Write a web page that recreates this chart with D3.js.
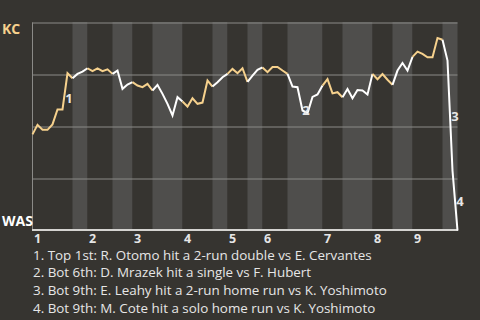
<!DOCTYPE html>
<html>
<head>
<meta charset="utf-8">
<script src="https://cdn.jsdelivr.net/npm/d3@7"></script>
<style>
  html, body { margin: 0; padding: 0; background: #363430; }
  svg { display: block; }
  text { font-family: "Open Sans", "Noto Sans", sans-serif; }
</style>
</head>
<body>
<svg id="chart" width="480" height="320"></svg>
<script>
// Win probability for KC after each plate appearance (index 0 = pre-game)
const kcWinProb = [
  0.462, 0.508, 0.484, 0.484, 0.510, 0.582, 0.582, 0.756, 0.732, 0.753,
  0.764, 0.780, 0.766, 0.779, 0.766, 0.775, 0.753, 0.769, 0.681, 0.702,
  0.713, 0.697, 0.689, 0.705, 0.673, 0.700, 0.657, 0.609, 0.553, 0.641,
  0.620, 0.596, 0.636, 0.609, 0.615, 0.721, 0.692, 0.713, 0.737, 0.753,
  0.777, 0.756, 0.780, 0.715, 0.745, 0.772, 0.784, 0.761, 0.786, 0.786,
  0.769, 0.753, 0.692, 0.689, 0.577, 0.564, 0.642, 0.654, 0.697, 0.728,
  0.659, 0.665, 0.641, 0.680, 0.636, 0.675, 0.673, 0.654, 0.753, 0.727,
  0.752, 0.725, 0.700, 0.769, 0.805, 0.769, 0.835, 0.860, 0.849, 0.833,
  0.833, 0.925, 0.917, 0.817, 0.288, 0.000
];

// Plate-appearance index where each half-inning begins (top 1st ... bottom 9th)
const halfInningStarts = [0, 8, 11, 16, 20, 24, 30, 36, 39, 43, 46, 51, 58, 62, 68, 72, 76, 82];
const inningLabels = ["1", "2", "3", "4", "5", "6", "7", "8", "9"];

// Key plays: index of the plate appearance, marker and description
const keyPlayIndex = [7, 54, 84, 85];
const keyPlayMarks = ["1", "2", "3", "4"];
const keyPlayText = [
  "Top 1st: R. Otomo hit a 2-run double vs E. Cervantes",
  "Bot 6th: D. Mrazek hit a single vs F. Hubert",
  "Bot 9th: E. Leahy hit a 2-run home run vs K. Yoshimoto",
  "Bot 9th: M. Cote hit a solo home run vs K. Yoshimoto"
];

const teams = { away: "KC", home: "WAS" };
const probTicks = [0.25, 0.5, 0.75, 1];

const svg = d3.select("#chart");
const plotLeft = 32.5, plotRight = 457.5, plotTop = 22.5, plotBottom = 230.5;
const lastIndex = kcWinProb.length - 1;

const x = d3.scaleLinear().domain([0, lastIndex]).range([plotLeft, plotRight]);
const y = d3.scaleLinear().domain([0, 1]).range([plotBottom, plotTop]);

const colors = {
  topHalf: "#363430",
  bottomHalf: "#4f4e4c",
  grid: "#8b8a87",
  kcLine: "#f6d18d",
  wasLine: "#ffffff",
  text: "#e6e6e6"
};

// Half-inning bands
const halves = halfInningStarts.map((s, k) => ({
  start: s,
  end: k + 1 < halfInningStarts.length ? halfInningStarts[k + 1] : lastIndex,
  isTop: k % 2 === 0
}));

svg.append("g").selectAll("rect").data(halves).join("rect")
  .attr("x", d => x(d.start))
  .attr("y", y(1) - 0.5)
  .attr("width", d => x(d.end) - x(d.start))
  .attr("height", y(0) - y(1))
  .attr("fill", d => d.isTop ? colors.topHalf : colors.bottomHalf);

// Horizontal grid and left axis line
const yAxis = d3.axisLeft(y).tickValues(probTicks).tickSize(-(plotRight - plotLeft + 0.5)).tickFormat("");
const gy = svg.append("g").attr("transform", `translate(${plotLeft - 0.5},0)`).call(yAxis);
gy.select(".domain").attr("stroke", colors.grid).attr("d", `M0.5,${y(1)}V${y(0)}`);
gy.selectAll(".tick line").attr("stroke", colors.grid).attr("stroke-width", 1);

// Bottom axis: inning numbers at the start of each top half
const inningStarts = halfInningStarts.filter((d, k) => k % 2 === 0);
const xAxis = d3.axisBottom(x).tickValues(inningStarts)
  .tickFormat((d, i) => inningLabels[i]).tickSize(0).tickPadding(0);
const gx = svg.append("g").attr("transform", `translate(0,${y(0) - 0.5})`).call(xAxis);
gx.select(".domain").attr("stroke", "#d4d3d0").attr("stroke-width", 2)
  .attr("d", `M${plotLeft - 0.5},0H${plotRight + 0.5}`);
gx.selectAll(".tick text")
  .attr("text-anchor", "start")
  .attr("dx", 1)
  .attr("y", 12.5)
  .attr("dy", 0)
  .attr("fill", colors.text)
  .style("font-size", "12.5px")
  .style("font-weight", "bold")
  .style("font-family", "'Open Sans', sans-serif");

// Win probability line, one piece per half-inning
const line = d3.line().x(d => x(d.i)).y(d => y(d.p));
svg.append("g").selectAll("path").data(halves).join("path")
  .attr("d", d => line(d3.range(d.start, d.end + 1).map(i => ({ i, p: kcWinProb[i] }))))
  .attr("fill", "none")
  .attr("stroke", d => d.isTop ? colors.kcLine : colors.wasLine)
  .attr("stroke-width", 2)
  .attr("stroke-linejoin", "miter");

// Key play markers beside the middle of the play's segment
const markNudge = [[4, 7], [6, 11], [5, 0], [5, 0]];
svg.append("g").selectAll("text").data(keyPlayIndex).join("text")
  .attr("x", (d, k) => (x(d - 1) + x(d)) / 2 + markNudge[k][0])
  .attr("y", (d, k) => (y(kcWinProb[d - 1]) + y(kcWinProb[d])) / 2 + markNudge[k][1])
  .attr("text-anchor", "middle")
  .attr("dominant-baseline", "central")
  .attr("fill", colors.text)
  .style("font-size", "13px")
  .style("font-weight", "bold")
  .text((d, k) => keyPlayMarks[k]);

// Team labels
svg.append("text").attr("x", 2).attr("y", 34)
  .attr("fill", colors.kcLine).style("font-size", "14px").style("font-weight", "bold")
  .text(teams.away);
svg.append("text").attr("x", 2).attr("y", 226)
  .attr("fill", "#ffffff").style("font-size", "14px").style("font-weight", "bold")
  .text(teams.home);

// Key play descriptions
svg.append("g").selectAll("text").data(keyPlayText).join("text")
  .attr("x", 33)
  .attr("y", (d, k) => 259.5 + k * 17.7)
  .attr("fill", colors.text)
  .style("font-size", "13.4px")
  .text((d, k) => `${keyPlayMarks[k]}. ${d}`);
</script>
</body>
</html>
